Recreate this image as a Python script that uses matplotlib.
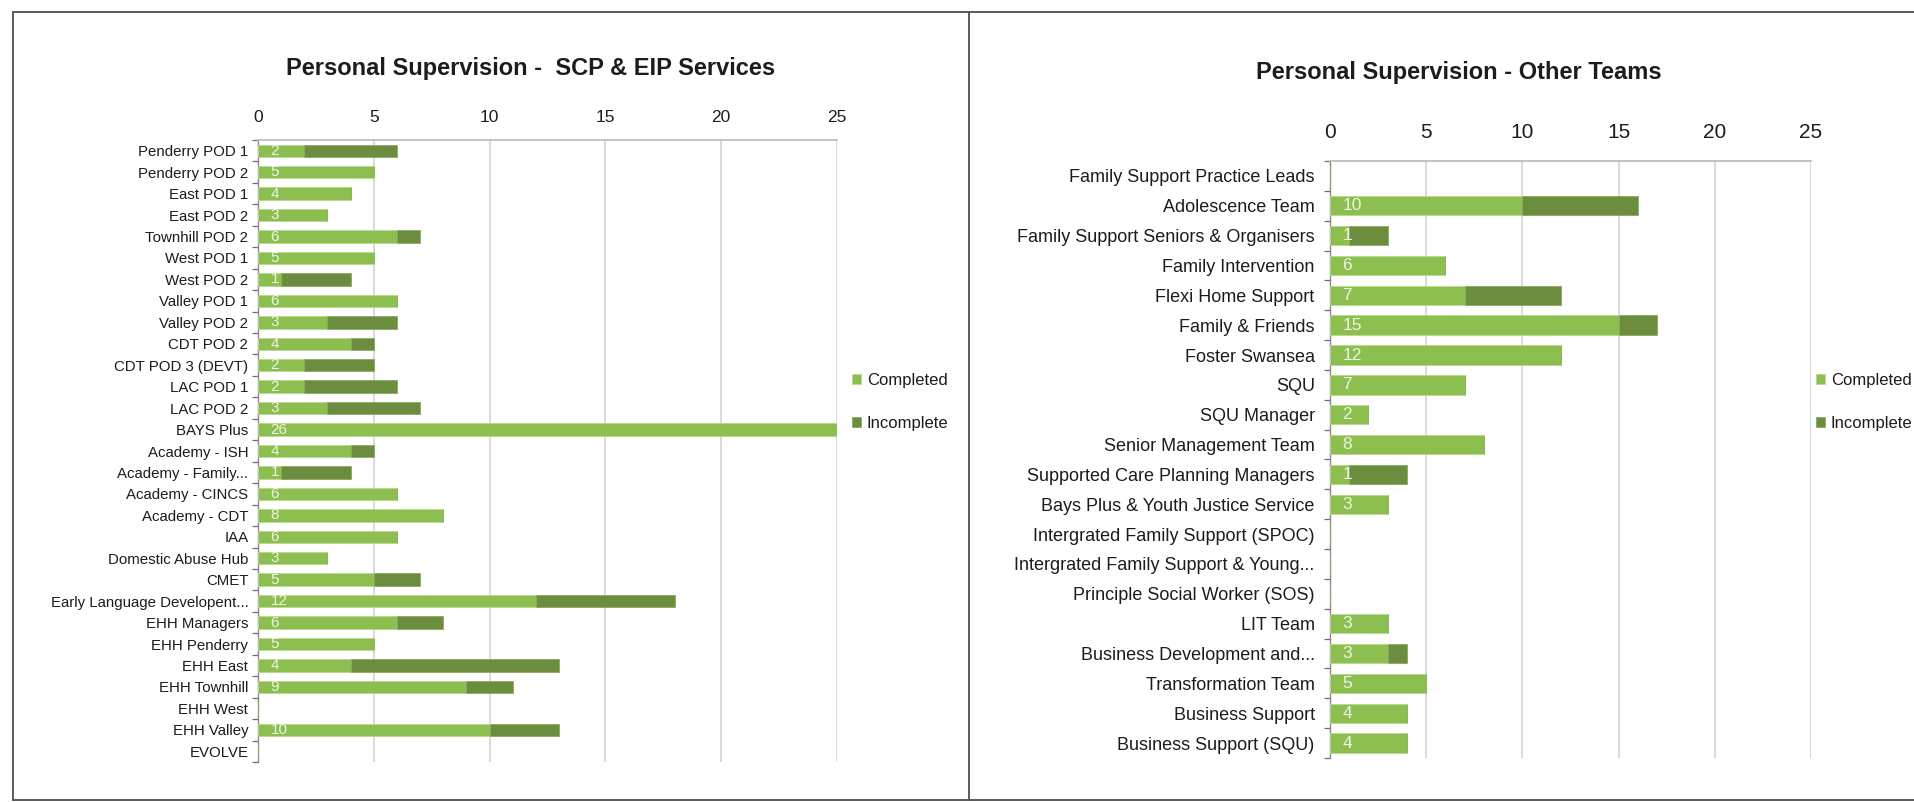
import matplotlib
matplotlib.use("Agg")
import matplotlib.pyplot as plt
from matplotlib.lines import Line2D
import numpy as np

plt.rcParams['font.family'] = ['Liberation Sans', 'DejaVu Sans']

# ---------------- data ----------------
left_title = "Personal Supervision -  SCP & EIP Services"
left_categories = ["Penderry POD 1", "Penderry POD 2", "East POD 1", "East POD 2",
                   "Townhill POD 2", "West POD 1", "West POD 2", "Valley POD 1",
                   "Valley POD 2", "CDT POD 2", "CDT POD 3 (DEVT)", "LAC POD 1",
                   "LAC POD 2", "BAYS Plus", "Academy - ISH", "Academy - Family...",
                   "Academy - CINCS", "Academy - CDT", "IAA", "Domestic Abuse Hub",
                   "CMET", "Early Language Developent...", "EHH Managers",
                   "EHH Penderry", "EHH East", "EHH Townhill", "EHH West",
                   "EHH Valley", "EVOLVE"]
left_completed = [2, 5, 4, 3, 6, 5, 1, 6, 3, 4, 2, 2, 3, 26, 4, 1, 6, 8, 6, 3,
                  5, 12, 6, 5, 4, 9, 0, 10, 0]
left_incomplete = [4, 0, 0, 0, 1, 0, 3, 0, 3, 1, 3, 4, 4, 0, 1, 3, 0, 0, 0, 0,
                   2, 6, 2, 0, 9, 2, 0, 3, 0]

right_title = "Personal Supervision - Other Teams"
right_categories = ["Family Support Practice Leads", "Adolescence Team",
                    "Family Support Seniors & Organisers", "Family Intervention",
                    "Flexi Home Support", "Family & Friends", "Foster Swansea", "SQU",
                    "SQU Manager", "Senior Management Team",
                    "Supported Care Planning Managers",
                    "Bays Plus & Youth Justice Service",
                    "Intergrated Family Support (SPOC)",
                    "Intergrated Family Support & Young...",
                    "Principle Social Worker (SOS)", "LIT Team",
                    "Business Development and...", "Transformation Team",
                    "Business Support", "Business Support (SQU)"]
right_completed = [0, 10, 1, 6, 7, 15, 12, 7, 2, 8, 1, 3, 0, 0, 0, 3, 3, 5, 4, 4]
right_incomplete = [0, 6, 2, 0, 5, 2, 0, 0, 0, 0, 3, 0, 0, 0, 0, 0, 1, 0, 0, 0]

x_ticks = [0, 5, 10, 15, 20, 25]
series_names = ["Completed", "Incomplete"]

# ---------------- style ----------------
C_COMP = "#8cbf4f"
C_INC = "#6c8d3d"
TXT = "#1c1c1c"
W, H = 1915, 802
DPI = 100

fig = plt.figure(figsize=(W / DPI, H / DPI), dpi=DPI)
fig.patch.set_facecolor("white")


def fx(px):
    return px / W


def fy(py):
    return 1 - py / H


def make_panel(rect, cats, comp, inc, bar_h, cat_fs, tick_fs, tick_pad,
               lab_fs, cat_pad):
    ax = fig.add_axes(rect)
    n = len(cats)
    y = np.arange(n)
    b1 = ax.barh(y, comp, height=bar_h, color=C_COMP, edgecolor="#b9d98f",
                 linewidth=0.6, zorder=3, label=series_names[0])
    b2 = ax.barh(y, inc, left=comp, height=bar_h, color=C_INC,
                 edgecolor="#8aa866", linewidth=0.6, zorder=3,
                 label=series_names[1])
    ax.set_ylim(n - 0.5, -0.5)
    ax.set_xlim(0, 25)
    ax.set_xticks(x_ticks)
    ax.xaxis.tick_top()
    ax.tick_params(axis="x", length=0, pad=tick_pad, labelsize=tick_fs,
                   colors=TXT)
    ax.set_yticks(y)
    ax.set_yticklabels(cats, fontsize=cat_fs, color=TXT)
    ax.set_yticks(np.arange(n + 1) - 0.5, minor=True)
    ax.tick_params(axis="y", which="major", length=0, pad=cat_pad)
    ax.tick_params(axis="y", which="minor", length=4, width=0.9,
                   color="#6e6e6e")
    ax.grid(axis="x", color="#cfcfcf", linewidth=1.1, zorder=0)
    ax.set_axisbelow(True)
    for s in ("right", "bottom"):
        ax.spines[s].set_visible(False)
    ax.spines["top"].set_color("#bdbdbd")
    ax.spines["top"].set_linewidth(1.3)
    ax.spines["left"].set_color("#8a8a8a")
    ax.spines["left"].set_linewidth(1.0)
    for yi, v in zip(y, comp):
        if v > 0:
            ax.annotate(str(v), xy=(0, yi), xytext=(9, 0),
                        textcoords="offset points", ha="left", va="center",
                        fontsize=lab_fs, color="#eef5e2", zorder=5,
                        clip_on=False)
    return ax, b1, b2


# left panel: axes x 258..837, y 140..762
axL, l1, l2 = make_panel([fx(258), fy(762), fx(837) - fx(258), fy(140) - fy(762)],
                         left_categories, left_completed, left_incomplete,
                         0.58, 10.8, 12.5, 11, 11, 7)
# right panel: axes x 1330..1811, y 161..758
axR, r1, r2 = make_panel([fx(1330), fy(758), fx(1811) - fx(1330), fy(161) - fy(758)],
                         right_categories, right_completed, right_incomplete,
                         0.65, 13, 15, 14, 12.5, 11)

title_font = ['Liberation Sans Narrow', 'Liberation Sans', 'DejaVu Sans']
fig.text(fx(531), fy(68), left_title, ha="center", va="center",
         fontsize=17, fontweight="bold", family=title_font, color=TXT)
fig.text(fx(1459), fy(73), right_title, ha="center", va="center",
         fontsize=17, fontweight="bold", family=title_font, color=TXT)

leg_kw = dict(loc="upper left", frameon=False, fontsize=12, handlelength=0.55,
              handleheight=0.55, handletextpad=0.35, labelspacing=1.7,
              borderpad=0, borderaxespad=0, labelcolor=TXT)
fig.legend([l1, l2], series_names, bbox_to_anchor=(fx(852), fy(373)), **leg_kw)
fig.legend([r1, r2], series_names, bbox_to_anchor=(fx(1816), fy(373)), **leg_kw)

# panel frames
frame_c = "#5a5a5a"
for (xa, ya, xb, yb) in [(13, 12, 1915, 12), (13, 800, 1915, 800),
                         (13, 12, 13, 800), (969, 12, 969, 800)]:
    fig.add_artist(Line2D([fx(xa), fx(xb)], [fy(ya), fy(yb)],
                          transform=fig.transFigure, color=frame_c,
                          linewidth=1.4))

fig.savefig("out.png", dpi=DPI, facecolor="white")
